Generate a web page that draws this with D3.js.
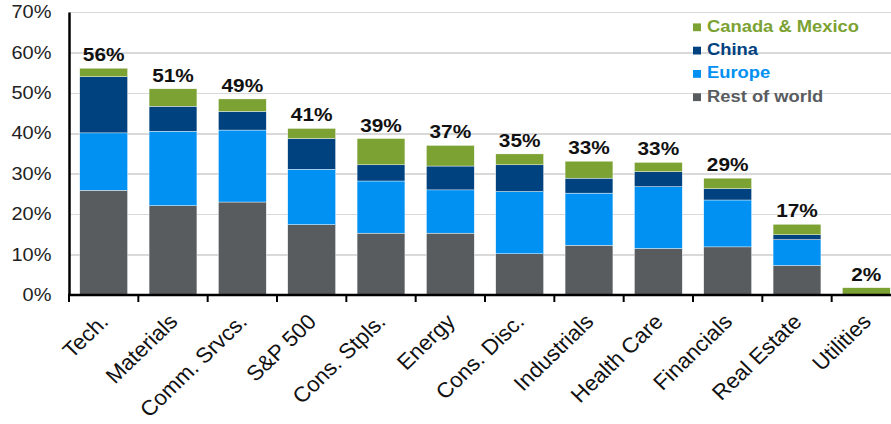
<!DOCTYPE html>
<html>
<head>
<meta charset="utf-8">
<script src="https://cdn.jsdelivr.net/npm/d3@7/dist/d3.min.js"></script>
<style>
  body { margin: 0; background: #fff; }
  svg { display: block; font-family: 'Liberation Sans', Arial, sans-serif; }
  .grid line { stroke: #d9d9d9; stroke-width: 1.5px; shape-rendering: crispEdges; }
  .y-axis text { font-size: 17.7px; fill: #222; }
  .x-axis text { font-size: 21.5px; fill: #111; }
  .total-label { font-size: 18.6px; font-weight: bold; fill: #111; text-anchor: middle; }
  .legend text { font-size: 17px; font-weight: bold; }
</style>
</head>
<body>
<svg id="chart" width="891" height="424"></svg>
<script>
// data (values in %)
const categories = ['Tech.', 'Materials', 'Comm. Srvcs.', 'S&P 500', 'Cons. Stpls.', 'Energy',
  'Cons. Disc.', 'Industrials', 'Health Care', 'Financials', 'Real Estate', 'Utilities'];
const restOfWorld = [25.9, 22.1, 23.0, 17.4, 15.3, 15.3, 10.2, 12.3, 11.5, 11.9, 7.3, 0.1];
const europe      = [14.2, 18.4, 17.8, 13.7, 12.9, 10.7, 15.4, 12.9, 15.3, 11.6, 6.4, 0.0];
const china       = [13.9,  6.2,  4.6,  7.6,  4.0,  5.9,  6.6,  3.7,  3.7,  2.8, 1.2, 0.0];
const canadaMex   = [ 2.1,  4.3,  3.1,  2.5,  6.5,  5.1,  2.7,  4.2,  2.3,  2.6, 2.6, 1.7];
const totalLabels = [56, 51, 49, 41, 39, 37, 35, 33, 33, 29, 17, 2];
const yTicks = [0, 10, 20, 30, 40, 50, 60, 70];

const seriesNames = ['Rest of world', 'Europe', 'China', 'Canada & Mexico'];
const seriesColors = ['#595c5f', '#0091f2', '#00427f', '#7ba233'];

const svg = d3.select('#chart');
const margin = { left: 69, right: 901, top: 12, bottom: 295 };
// the source picture is a bit wider than tall, text is stretched to match
const stretch = 1.12;

const x = d3.scaleBand().domain(categories).range([margin.left, margin.right]).padding(0);
const y = d3.scaleLinear().domain([0, 70]).range([margin.bottom, margin.top]);
const color = d3.scaleOrdinal().domain(seriesNames).range(seriesColors);
const barW = x.step() * 0.69;

// table for stacking
const rows = categories.map((c, i) => ({
  cat: c,
  'Rest of world': restOfWorld[i],
  'Europe': europe[i],
  'China': china[i],
  'Canada & Mexico': canadaMex[i],
  label: totalLabels[i]
}));
const stacked = d3.stack().keys(seriesNames)(rows);

// gridlines
svg.append('g')
  .attr('class', 'grid')
  .attr('transform', 'translate(' + margin.left + ',0)')
  .call(d3.axisLeft(y).tickValues(yTicks.slice(1)).tickSize(-(margin.right - margin.left)).tickFormat(''))
  .call(g => g.select('.domain').remove());

// legend (gridlines show through)
const legend = svg.append('g').attr('class', 'legend');
const legendOrder = seriesNames.slice().reverse();
const legG = legend.selectAll('g')
  .data(legendOrder)
  .enter()
  .append('g')
  .attr('transform', (d, i) => 'translate(693,' + (31.7 + i * 23.3) + ')');
legG.append('rect')
  .attr('x', 0).attr('y', -8.3)
  .attr('width', 8).attr('height', 7.8)
  .attr('fill', d => color(d));
legG.append('text')
  .attr('transform', 'translate(14,0) scale(1.08,1)')
  .attr('fill', d => color(d))
  .text(d => d);

// bars
svg.append('g')
  .selectAll('g')
  .data(stacked)
  .enter()
  .append('g')
  .attr('fill', d => color(d.key))
  .selectAll('rect')
  .data(d => d)
  .enter()
  .append('rect')
  .attr('x', d => x(d.data.cat) + (x.step() - barW) / 2)
  .attr('width', barW)
  .attr('y', d => y(d[1]))
  .attr('height', d => Math.max(0, y(d[0]) - y(d[1])))
  .attr('stroke', '#ffffff')
  .attr('stroke-width', 0.4);

// total labels
svg.append('g')
  .selectAll('text')
  .data(rows)
  .enter()
  .append('text')
  .attr('class', 'total-label')
  .attr('transform', d => {
    const tot = d['Rest of world'] + d['Europe'] + d['China'] + d['Canada & Mexico'];
    return 'translate(' + (x(d.cat) + x.step() / 2) + ',' + (y(tot) - 7) + ') scale(' + stretch + ',1)';
  })
  .text(d => d.label + '%');

// y axis
svg.append('g')
  .attr('class', 'y-axis')
  .attr('transform', 'translate(' + margin.left + ',0)')
  .call(d3.axisLeft(y).tickValues(yTicks).tickSize(0).tickPadding(0).tickFormat(d => d + '%'))
  .call(g => g.select('.domain').attr('stroke', '#000').attr('stroke-width', 2.5))
  .call(g => g.selectAll('.tick text').attr('x', null).attr('transform', 'translate(-17.5,0) scale(1.13,1)'));

// x axis
const xAxis = svg.append('g')
  .attr('class', 'x-axis')
  .attr('transform', 'translate(0,' + margin.bottom + ')');
xAxis.append('line')
  .attr('x1', margin.left - 1).attr('x2', margin.right)
  .attr('stroke', '#000').attr('stroke-width', 2.5);
xAxis.selectAll('line.tick')
  .data(categories)
  .enter()
  .append('line')
  .attr('class', 'tick')
  .attr('x1', d => x(d)).attr('x2', d => x(d))
  .attr('y1', 0).attr('y2', 7)
  .attr('stroke', '#000').attr('stroke-width', 2);
xAxis.selectAll('text')
  .data(categories)
  .enter()
  .append('text')
  .attr('text-anchor', 'end')
  .attr('transform', d => 'translate(' + (x(d) + x.step() / 2 + 6) + ',28) scale(1.04,1) rotate(-45)')
  .text(d => d);
</script>
</body>
</html>
